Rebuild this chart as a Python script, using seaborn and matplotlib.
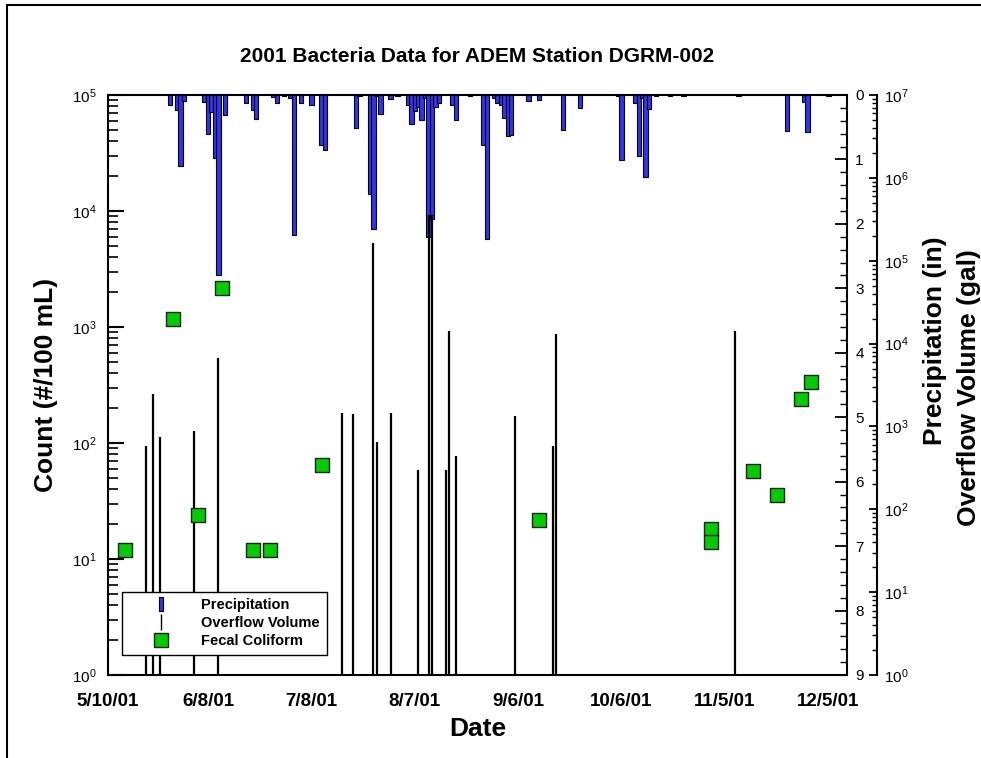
import numpy as np
import pandas as pd
import matplotlib
matplotlib.use("Agg")
import matplotlib.pyplot as plt
import matplotlib.dates as mdates
from matplotlib.ticker import (LogLocator, NullFormatter, MultipleLocator,
                               LogFormatterSciNotation, FixedLocator)
from matplotlib.lines import Line2D
import seaborn as sns

# ---------------- data ----------------
TITLE = "2001 Bacteria Data for ADEM Station DGRM-002"
XTICK_LABELS = ["5/10/01", "6/8/01", "7/8/01", "8/7/01", "9/6/01",
                "10/6/01", "11/5/01", "12/5/01"]

PRECIP_DATES = ["5/28", "5/30", "5/31", "6/1", "6/7", "6/8", "6/9", "6/10",
                "6/11", "6/13", "6/19", "6/21", "6/22", "6/27", "6/28", "6/30",
                "7/2", "7/3", "7/5", "7/8", "7/11", "7/12", "7/21", "7/22",
                "7/25", "7/26", "7/27", "7/28", "7/31", "8/2", "8/5", "8/6",
                "8/7", "8/8", "8/9", "8/10", "8/11", "8/12", "8/13", "8/14",
                "8/18", "8/19", "8/23", "8/27", "8/28", "8/30", "8/31", "9/1",
                "9/2", "9/3", "9/4", "9/9", "9/12", "9/19", "9/24", "10/5",
                "10/6", "10/10", "10/11", "10/12", "10/13", "10/14", "10/16",
                "10/20", "10/24", "11/9", "11/23", "11/28", "11/29", "12/5"]
PRECIP_IN = [0.16, 0.24, 1.10, 0.09, 0.11, 0.60, 0.26, 0.98,
             2.80, 0.31, 0.13, 0.24, 0.37, 0.03, 0.12, 0.02,
             0.05, 2.18, 0.12, 0.16, 0.77, 0.86, 0.51, 0.02,
             1.53, 2.08, 0.02, 0.30, 0.06, 0.02, 0.16, 0.45,
             0.25, 0.18, 0.39, 0.05, 2.21, 1.93, 0.18, 0.12,
             0.16, 0.39, 0.02, 0.77, 2.23, 0.05, 0.12, 0.16,
             0.35, 0.64, 0.62, 0.10, 0.08, 0.54, 0.20, 0.02,
             1.01, 0.12, 0.94, 0.05, 1.28, 0.22, 0.02,
             0.02, 0.02, 0.02, 0.56, 0.11, 0.58, 0.02]

OVERFLOW_DATES = ["5/21", "5/23", "5/25", "6/4", "6/11", "7/17", "7/20",
                  "7/26", "7/27", "7/31", "8/8", "8/11", "8/12", "8/16",
                  "8/17", "8/19", "9/5", "9/16", "9/17", "11/8"]
OVERFLOW_GAL = [585, 2440, 740, 880, 6750, 1470, 1410,
                164000, 640, 1470, 300, 356000, 356000, 300,
                14300, 440, 1350, 585, 12900, 14200]

FECAL_DATES = ["5/15", "5/29", "6/5", "6/12", "6/21", "6/26", "7/11",
               "9/12", "11/1", "11/1", "11/13", "11/20", "11/27", "11/30"]
FECAL_COUNT = [12, 1170, 24, 2160, 12, 12, 65,
               21.5, 18, 14, 57, 35.5, 238, 334]

COUNT_TICKS = [1, 10, 100, 1000, 10000, 100000]
PRECIP_TICKS = [0, 1, 2, 3, 4, 5, 6, 7, 8, 9]
OVERFLOW_TICKS = [1, 10, 100, 1000, 10000, 100000, 1000000, 10000000]

LEGEND_LABELS = ["Precipitation", "Overflow Volume", "Fecal Coliform"]

# ---------------- style ----------------
sns.set_style("white")
plt.rcParams['font.family'] = ['Liberation Sans', 'DejaVu Sans']
plt.rcParams['mathtext.fontset'] = 'custom'
plt.rcParams['mathtext.rm'] = 'Liberation Sans'
plt.rcParams['axes.edgecolor'] = 'black'
plt.rcParams['xtick.color'] = 'black'
plt.rcParams['ytick.color'] = 'black'
plt.rcParams['text.color'] = 'black'
plt.rcParams['axes.labelcolor'] = 'black'


def to_dt(lst):
    return pd.to_datetime(["2001/" + d for d in lst], format="%Y/%m/%d")


precip_dt = to_dt(PRECIP_DATES)
over_dt = to_dt(OVERFLOW_DATES)
fecal_df = pd.DataFrame({"date": to_dt(FECAL_DATES), "count": FECAL_COUNT})
tick_dt = pd.to_datetime(XTICK_LABELS, format="%m/%d/%y")

W, H = 981, 758
fig = plt.figure(figsize=(W / 100, H / 100), dpi=100)
L, R, T, B = 108, 847, 95, 675
ax = fig.add_axes([L / W, (H - B) / H, (R - L) / W, (B - T) / H])
ax2 = ax.twinx()
ax3 = ax.twinx()

ax.set_zorder(3)
ax.patch.set_visible(False)
ax2.set_zorder(1)
ax3.set_zorder(2)

# ---- precipitation (hanging bars) ----
ax2.bar(mdates.date2num(precip_dt), PRECIP_IN, width=1.3, color='#3232f6',
        edgecolor='black', linewidth=0.8, align='center')
ax2.set_ylim(9, 0)
ax2.yaxis.set_major_locator(FixedLocator(PRECIP_TICKS))
ax2.yaxis.set_minor_locator(MultipleLocator(0.2))
ax2.tick_params(axis='y', which='major', direction='in', length=8.5,
                width=1.3, labelsize=11, pad=6)
ax2.tick_params(axis='y', which='minor', direction='in', length=5, width=1.0)
ax2.xaxis.set_visible(False)
for s in ax2.spines.values():
    s.set_visible(False)

# ---- overflow volume (vertical lines) ----
ax3.vlines(mdates.date2num(over_dt), 1, OVERFLOW_GAL, colors='black',
           linewidth=1.6)
ax3.set_yscale('log')
ax3.set_ylim(1, 1e7)
ax3.spines['right'].set_position(('axes', (877 - L) / (R - L)))
for k in ('top', 'left', 'bottom'):
    ax3.spines[k].set_visible(False)
ax3.spines['right'].set_linewidth(1.5)
ax3.xaxis.set_visible(False)
ax3.yaxis.set_major_locator(FixedLocator(OVERFLOW_TICKS))
ax3.yaxis.set_minor_locator(LogLocator(base=10, subs=np.arange(2, 10), numticks=20))
ax3.yaxis.set_minor_formatter(NullFormatter())
ax3.yaxis.set_major_formatter(LogFormatterSciNotation())
ax3.tick_params(axis='y', which='major', direction='in', length=6,
                width=1.3, labelsize=11, pad=5)
ax3.tick_params(axis='y', which='minor', direction='in', length=3.6, width=1.0)

# ---- fecal coliform (squares) ----
ax.set_yscale('log')
ax.set_ylim(1, 1e5)
sns.scatterplot(data=fecal_df, x="date", y="count", ax=ax, marker='s', s=115,
                color='#00cc00', edgecolor='#202020', linewidth=1.0,
                legend=False, zorder=5)

ax.set_xlim(pd.Timestamp('2001-05-10'), pd.Timestamp('2001-12-10 10:00'))
ax.set_xticks(tick_dt)
ax.set_xticklabels(XTICK_LABELS, fontsize=13.5, fontweight='bold')
ax.xaxis.set_minor_locator(FixedLocator(mdates.date2num(
    pd.date_range('2001-05-15', '2001-12-10', freq='6D'))))
ax.tick_params(axis='x', which='major', direction='in', length=10, width=1.5,
               pad=13, top=False)
ax.tick_params(axis='x', which='minor', direction='in', length=5.5, width=1.2,
               top=False)
ax.yaxis.set_major_locator(FixedLocator(COUNT_TICKS))
ax.yaxis.set_minor_locator(LogLocator(base=10, subs=np.arange(2, 10), numticks=10))
ax.yaxis.set_minor_formatter(NullFormatter())
ax.yaxis.set_major_formatter(LogFormatterSciNotation())
ax.tick_params(axis='y', which='major', direction='in', length=11.5, width=1.5,
               labelsize=11, pad=8, right=False)
ax.tick_params(axis='y', which='minor', direction='in', length=7, width=1.2,
               right=False)
for s in ax.spines.values():
    s.set_visible(True)
    s.set_linewidth(1.5)
    s.set_color('black')

ax.set_xlabel('Date', fontsize=19, fontweight='bold', labelpad=5)
ax.set_ylabel('Count (#/100 mL)', fontsize=19, fontweight='bold', labelpad=10)
ax.set_title(TITLE, fontsize=15, fontweight='bold', pad=24)

fig.text(935 / W, 1 - 341 / H, 'Precipitation (in)', rotation=90,
         fontsize=19, fontweight='bold', ha='center', va='center')
fig.text(969 / W, 1 - 388 / H, 'Overflow Volume (gal)', rotation=90,
         fontsize=19, fontweight='bold', ha='center', va='center')

# ---- legend ----
bar_marker = [(-0.3, -1), (0.3, -1), (0.3, 1), (-0.3, 1), (-0.3, -1)]
handles = [
    Line2D([], [], linestyle='none', marker=bar_marker, markersize=10,
           markerfacecolor='#3232f6', markeredgecolor='black', markeredgewidth=0.8),
    Line2D([], [], linestyle='none', marker='|', markersize=11,
           markeredgecolor='black', markeredgewidth=1.0),
    Line2D([], [], linestyle='none', marker='s', markersize=10,
           markerfacecolor='#00cc00', markeredgecolor='#202020', markeredgewidth=1.0),
]
leg = ax.legend(handles, LEGEND_LABELS, loc='lower left',
                bbox_to_anchor=((122 - L) / (R - L), (B - 655) / (B - T)),
                borderaxespad=0, fancybox=False, framealpha=1, edgecolor='black',
                prop={'size': 10.5, 'weight': 'bold'}, handlelength=4.4,
                handletextpad=0.6, borderpad=0.45, labelspacing=0.28)
leg.get_frame().set_linewidth(1.0)
leg.set_zorder(10)

# ---- outer frame (left and top edges) ----
fig.add_artist(Line2D([7 / W, 7 / W], [0, 1 - 5 / H], transform=fig.transFigure,
                      color='black', linewidth=1.5))
fig.add_artist(Line2D([7 / W, 1], [1 - 5 / H, 1 - 5 / H], transform=fig.transFigure,
                      color='black', linewidth=1.5))

fig.savefig('out.png', dpi=100)
